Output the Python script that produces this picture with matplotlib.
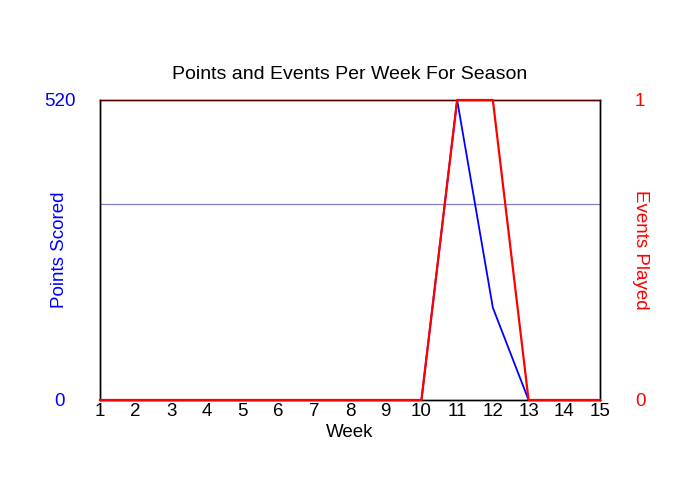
import matplotlib
matplotlib.use('Agg')
import matplotlib.pyplot as plt

plt.rcParams['font.family'] = ['Liberation Sans', 'DejaVu Sans']

weeks = list(range(1, 16))
points = [0, 0, 0, 0, 0, 0, 0, 0, 0, 0, 520, 160, 0, 0, 0]
events = [0, 0, 0, 0, 0, 0, 0, 0, 0, 0, 1, 1, 0, 0, 0]
avg_points = 340

fig = plt.figure(figsize=(7, 5), dpi=100)
ax1 = fig.add_axes([100 / 700, 0.2, 500 / 700, 0.6])
ax2 = ax1.twinx()

# average line + points (left axis)
ax1.axhline(avg_points, color='#8080c8', linewidth=0.9)
ax1.plot(weeks, points, color='#0000ff', linewidth=1.3, clip_on=False, zorder=3)
ax1.set_xlim(1, 15)
ax1.set_ylim(0, 520)
ax1.set_yticks([0, 520])
ax1.set_xticks(weeks)
ax1.tick_params(axis='both', length=0, labelsize=13.5)
ax1.tick_params(axis='y', colors='#0000ff', pad=29)
for lbl in ax1.get_yticklabels():
    lbl.set_horizontalalignment('center')
ax1.tick_params(axis='x', colors='black', pad=2)
ax1.set_ylabel('Points Scored', color='#0000ff', fontsize=13.5, va='center')
ax1.yaxis.set_label_coords(-0.08, 0.5)
ax1.set_xlabel('Week', fontsize=13.5, labelpad=3)

# events (right axis)
ax2.plot(weeks, events, color='#ff0000', linewidth=1.6, clip_on=False, zorder=3)
ax2.set_ylim(0, 1)
ax2.set_yticks([0, 1])
ax2.tick_params(axis='y', length=0, labelsize=13.5, colors='#ff0000', pad=29)
for lbl in ax2.get_yticklabels():
    lbl.set_horizontalalignment('center')
ax2.set_ylabel('Events Played', color='#ff0000', fontsize=13.5, rotation=270,
               va='center')
ax2.yaxis.set_label_coords(1.08, 0.5)

for a in (ax1, ax2):
    for s in a.spines.values():
        s.set_linewidth(1)
        s.set_color('black')
    a.spines['top'].set_color('#5a0000')
ax2.set_zorder(ax1.get_zorder() + 1)
ax2.patch.set_visible(False)

ax1.set_title('Points and Events Per Week For Season', fontsize=14, pad=15)

fig.savefig('out.png', dpi=100)
